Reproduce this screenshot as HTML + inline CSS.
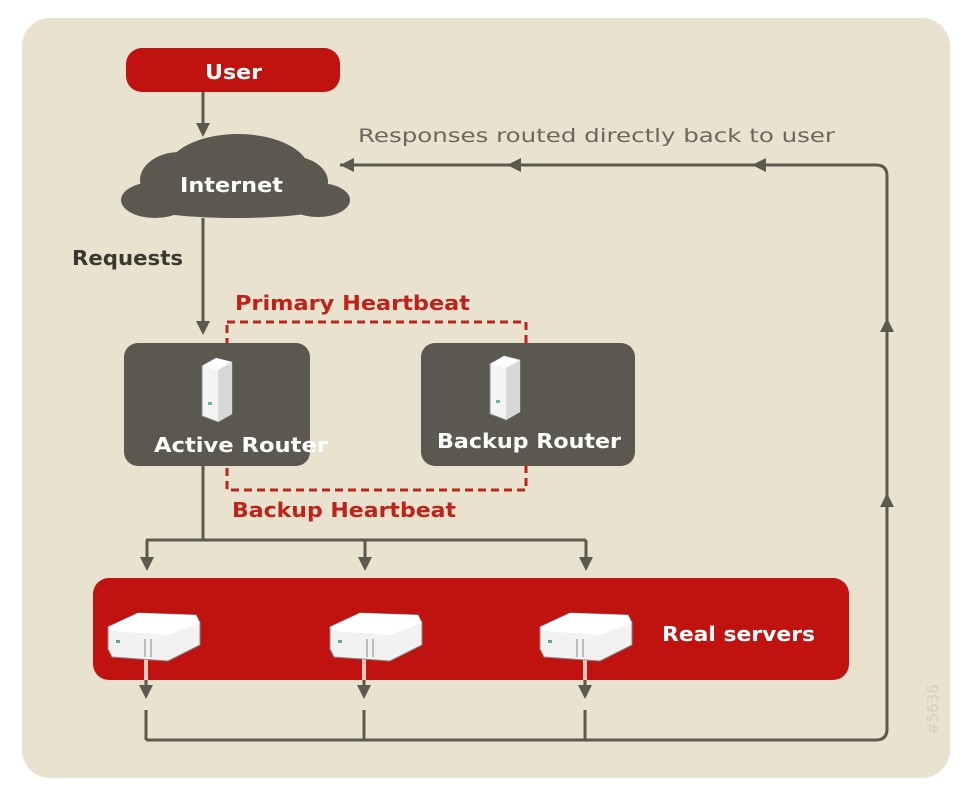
<!DOCTYPE html>
<html><head><style>
body{margin:0;background:#fff;width:976px;height:792px;overflow:hidden;font-family:"Liberation Sans",sans-serif}
</style></head><body>
<svg width="976" height="792" xmlns="http://www.w3.org/2000/svg" font-family="DejaVu Sans, Liberation Sans, sans-serif" font-weight="bold">
<defs>
<marker id="a" markerWidth="14" markerHeight="14" refX="7" refY="7" orient="auto" markerUnits="userSpaceOnUse"><path d="M0,0 L14,7 L0,14 z" fill="#5c5a4e"/></marker>
<g id="srv">
<path d="M0,18 L30,4 L88,6 L92,14 L92,36 L60,52 L4,48 L0,40 z" fill="#f2f2f0" stroke="#8a8a88" stroke-width="1"/>
<path d="M0,18 L30,4 L88,6 L92,14 L60,26 L4,22 z" fill="#ffffff"/>
<rect x="8" y="31" width="4" height="3" fill="#5a9"/>
<rect x="36" y="30" width="2" height="18" fill="#bbb"/><rect x="42" y="30" width="2" height="18" fill="#bbb"/>
</g>
<g id="tower">
<path d="M6,8 L20,0 L36,4 L36,56 L22,64 L6,58 z" fill="#f4f4f2" stroke="#888" stroke-width="1"/>
<path d="M6,8 L20,0 L36,4 L22,12 z" fill="#fff"/>
<path d="M22,12 L36,4 L36,56 L22,64 z" fill="#d8d8d6"/>
<rect x="12" y="44" width="4" height="3" fill="#6b9"/>
</g>
</defs>
<rect x="22" y="18" width="928" height="760" rx="28" fill="#e9e2cf"/>
<rect x="126" y="48" width="214" height="44" rx="16" fill="#c0120e"/>
<text x="205" y="79" fill="#fff" font-size="20" textLength="57" lengthAdjust="spacingAndGlyphs">User</text>
<line x1="203" y1="92" x2="203" y2="130" stroke="#5c5a4e" stroke-width="3" marker-end="url(#a)"/>
<g fill="#5b5850">
<ellipse cx="238" cy="172" rx="72" ry="38"/>
<ellipse cx="180" cy="180" rx="40" ry="28"/>
<ellipse cx="290" cy="182" rx="38" ry="26"/>
<ellipse cx="155" cy="200" rx="34" ry="18"/>
<ellipse cx="318" cy="200" rx="32" ry="17"/>
<ellipse cx="236" cy="204" rx="100" ry="14"/>
</g>
<text x="180" y="192" fill="#fff" font-size="20" textLength="103" lengthAdjust="spacingAndGlyphs">Internet</text>
<line x1="203" y1="218" x2="203" y2="328" stroke="#5c5a4e" stroke-width="3" marker-end="url(#a)"/>
<text x="72" y="265" fill="#3a3830" font-size="20" textLength="111" lengthAdjust="spacingAndGlyphs">Requests</text>
<text x="235" y="310" fill="#c0221a" font-size="20" textLength="235" lengthAdjust="spacingAndGlyphs">Primary Heartbeat</text>
<rect x="227" y="322" width="299" height="168" fill="none" stroke="#c0221a" stroke-width="3" stroke-dasharray="8,5"/>
<rect x="124" y="343" width="186" height="123" rx="14" fill="#5b5850"/>
<rect x="421" y="343" width="214" height="123" rx="14" fill="#5b5850"/>
<use href="#tower" x="196" y="358"/>
<use href="#tower" x="484" y="356"/>
<text x="154" y="452" fill="#fff" font-size="20" textLength="174" lengthAdjust="spacingAndGlyphs">Active Router</text>
<text x="437" y="448" fill="#fff" font-size="20" textLength="184" lengthAdjust="spacingAndGlyphs">Backup Router</text>
<text x="232" y="517" fill="#c0221a" font-size="20" textLength="224" lengthAdjust="spacingAndGlyphs">Backup Heartbeat</text>
<g stroke="#5c5a4e" stroke-width="3" fill="none">
<line x1="203" y1="466" x2="203" y2="540"/>
<line x1="146" y1="540" x2="586" y2="540"/>
<line x1="147" y1="540" x2="147" y2="564" marker-end="url(#a)"/>
<line x1="365" y1="540" x2="365" y2="564" marker-end="url(#a)"/>
<line x1="586" y1="540" x2="586" y2="564" marker-end="url(#a)"/>
</g>
<rect x="93" y="578" width="756" height="102" rx="16" fill="#c0120e"/>
<g stroke="#f2c8c0" stroke-width="4"><line x1="146" y1="650" x2="146" y2="684"/><line x1="364" y1="650" x2="364" y2="684"/><line x1="585" y1="650" x2="585" y2="684"/></g>
<use href="#srv" x="108" y="609"/>
<use href="#srv" x="330" y="609"/>
<use href="#srv" x="540" y="609"/>
<text x="662" y="641" fill="#fff" font-size="20" textLength="153" lengthAdjust="spacingAndGlyphs">Real servers</text>
<g stroke="#5c5a4e" stroke-width="3" fill="none">
<line x1="146" y1="680" x2="146" y2="692" marker-end="url(#a)"/>
<line x1="364" y1="680" x2="364" y2="692" marker-end="url(#a)"/>
<line x1="585" y1="680" x2="585" y2="692" marker-end="url(#a)"/>
<line x1="146" y1="710" x2="146" y2="740"/><line x1="364" y1="710" x2="364" y2="740"/><line x1="585" y1="710" x2="585" y2="740"/>
<path d="M146,740 L876,740 Q887,740 887,729 L887,176 Q887,165 876,165 L340,165"/>
<line x1="887" y1="520" x2="887" y2="500" marker-end="url(#a)"/>
<line x1="887" y1="345" x2="887" y2="325" marker-end="url(#a)"/>
<line x1="370" y1="165" x2="347" y2="165" marker-end="url(#a)"/>
<line x1="540" y1="165" x2="514" y2="165" marker-end="url(#a)"/>
<line x1="790" y1="165" x2="759" y2="165" marker-end="url(#a)"/>
</g>
<text x="358" y="142" fill="#6b675e" font-size="19" font-weight="normal" textLength="477" lengthAdjust="spacingAndGlyphs">Responses routed directly back to user</text>
<text x="0" y="0" fill="#d6cfbd" font-size="15" font-weight="normal" transform="translate(938,735) rotate(-90)">#5636</text>
</svg>
</body></html>
